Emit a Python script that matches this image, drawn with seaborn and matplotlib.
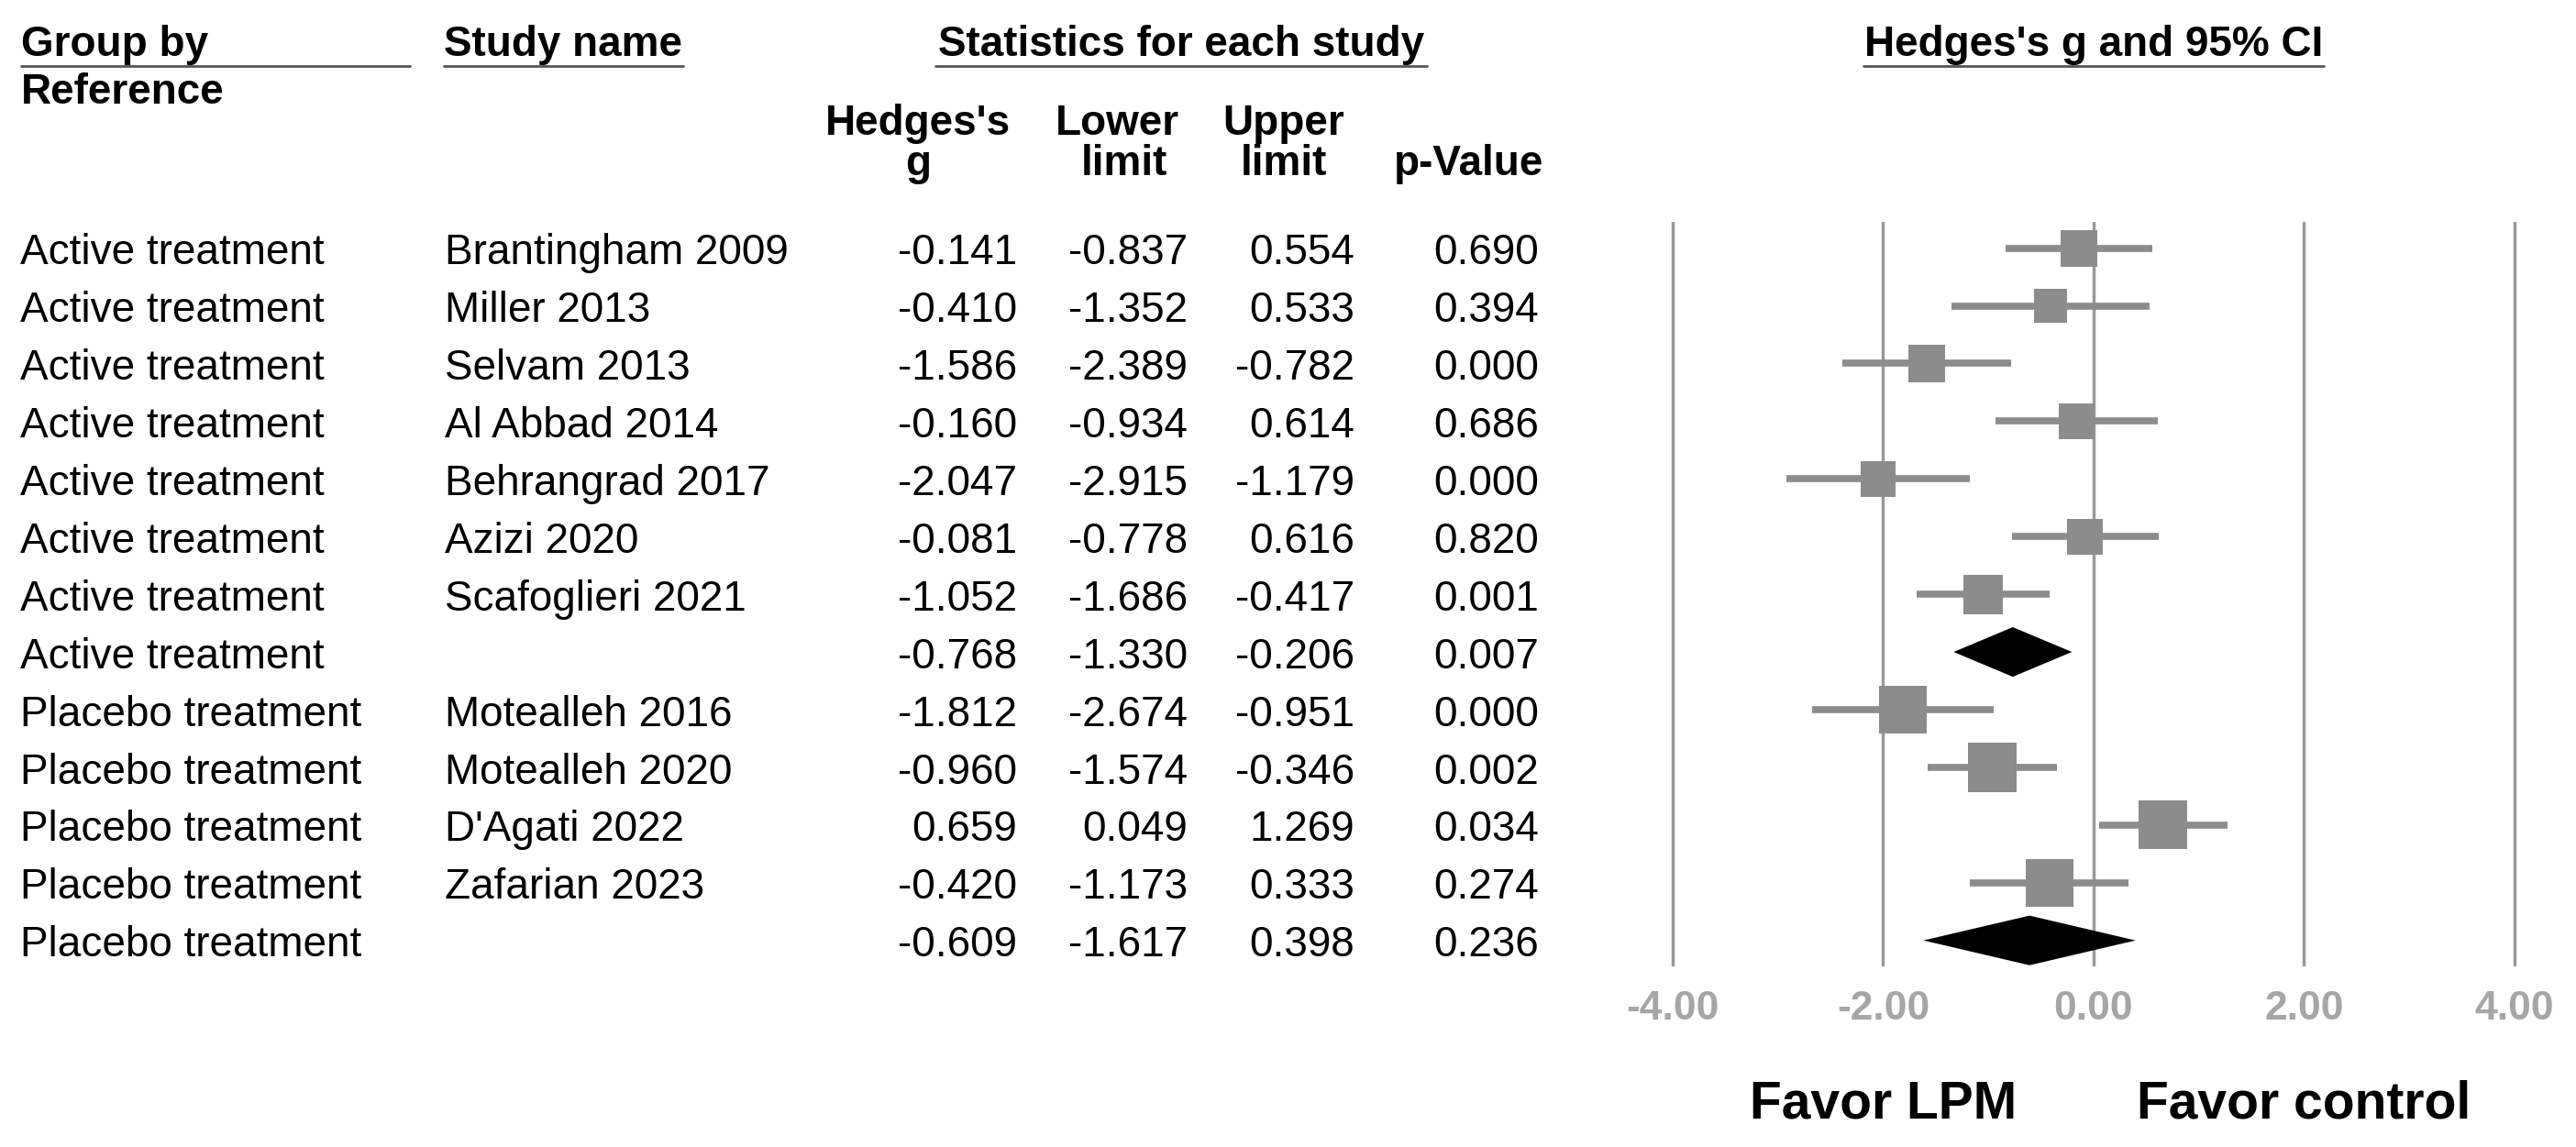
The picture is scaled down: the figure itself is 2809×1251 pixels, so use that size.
import numpy as np
import pandas as pd
import seaborn as sns
import matplotlib.pyplot as plt
from matplotlib.lines import Line2D
from matplotlib import transforms

# data
groups = ['Active treatment'] * 8 + ['Placebo treatment'] * 5
studies = ['Brantingham 2009', 'Miller 2013', 'Selvam 2013', 'Al Abbad 2014',
           'Behrangrad 2017', 'Azizi 2020', 'Scafoglieri 2021', '',
           'Motealleh 2016', 'Motealleh 2020', "D'Agati 2022", 'Zafarian 2023', '']
hedges_g = [-0.141, -0.410, -1.586, -0.160, -2.047, -0.081, -1.052, -0.768,
            -1.812, -0.960, 0.659, -0.420, -0.609]
lower = [-0.837, -1.352, -2.389, -0.934, -2.915, -0.778, -1.686, -1.330,
         -2.674, -1.574, 0.049, -1.173, -1.617]
upper = [0.554, 0.533, -0.782, 0.614, -1.179, 0.616, -0.417, -0.206,
         -0.951, -0.346, 1.269, 0.333, 0.398]
p_value = [0.690, 0.394, 0.000, 0.686, 0.000, 0.820, 0.001, 0.007,
           0.000, 0.002, 0.034, 0.274, 0.236]
# relative weight within group (%)
rel_weight = [14.5, 12.3, 15.2, 13.7, 13.7, 13.7, 16.8, np.nan,
              23.8, 25.7, 25.7, 24.7, np.nan]
x_ticks = [-4, -2, 0, 2, 4]

df = pd.DataFrame({'group': groups, 'study': studies, 'g': hedges_g,
                   'lower': lower, 'upper': upper, 'p': p_value,
                   'weight': rel_weight})
df['row'] = np.arange(len(df))
df['summary'] = df['study'] == ''
single = df[~df['summary']]
pooled = df[df['summary']]

sns.set_style('white')
plt.rcParams['font.family'] = ['Liberation Sans', 'DejaVu Sans']
plt.rcParams['axes.unicode_minus'] = False
plt.rcParams['text.color'] = 'black'

W, H = 2809, 1251
fig = plt.figure(figsize=(W / 100, H / 100), dpi=100)


def fx(px):
    return px / W


def fy(px):
    return 1 - px / H


ax = fig.add_axes([fx(1766.6), fy(1054), fx(1032.75), 812 / H])

GRAY = '#8c8c8c'
# confidence intervals
ax.hlines(single['row'], single['lower'], single['upper'], color=GRAY, lw=5.5, zorder=2)
# weighted boxes, area proportional to weight
sns.scatterplot(data=single, x='g', y='row', size='weight', sizes=(0, 57.0 * 30),
                size_norm=(0, 30), marker='s', color=GRAY, linewidth=0,
                legend=False, ax=ax, zorder=3)
# pooled diamonds
dh = 0.43
for _, r in pooled.iterrows():
    ax.fill([r['lower'], r['g'], r['upper'], r['g']],
            [r['row'], r['row'] - dh, r['row'], r['row'] + dh],
            color='black', lw=0, zorder=3)

ax.set_xlim(-4.5, 4.5)
ax.set_ylim(12.45, -0.455)
ax.set_xticks(x_ticks)
ax.set_xticklabels([f'{v:.2f}' for v in x_ticks], fontsize=32, fontweight='bold', color='#a6a6a6')
ax.set_yticks([])
ax.set_xlabel('')
ax.set_ylabel('')
ax.tick_params(axis='x', length=0, pad=19)
ax.grid(axis='x', color='#999999', lw=2.5, zorder=0)
ax.grid(axis='y', visible=False)
for s in ax.spines.values():
    s.set_visible(False)

# favour labels
tb = transforms.blended_transform_factory(ax.transData, fig.transFigure)
ax.text(-2, fy(1219), 'Favor LPM', transform=tb, ha='center', va='baseline',
        fontsize=41, fontweight='bold', color='black')
ax.text(2, fy(1219), 'Favor control', transform=tb, ha='center', va='baseline',
        fontsize=41, fontweight='bold', color='black')

# table rows, y follows the forest axis
tr = transforms.blended_transform_factory(fig.transFigure, ax.transData)
FS = 33
for _, r in df.iterrows():
    yb = r['row'] + 0.28
    fig.text(fx(22), yb, r['group'], transform=tr, ha='left', va='baseline', fontsize=FS)
    if r['study']:
        fig.text(fx(485), yb, r['study'], transform=tr, ha='left', va='baseline', fontsize=FS)
    fig.text(fx(1109), yb, f"{r['g']:.3f}", transform=tr, ha='right', va='baseline', fontsize=FS)
    fig.text(fx(1295), yb, f"{r['lower']:.3f}", transform=tr, ha='right', va='baseline', fontsize=FS)
    fig.text(fx(1477), yb, f"{r['upper']:.3f}", transform=tr, ha='right', va='baseline', fontsize=FS)
    fig.text(fx(1678), yb, f"{r['p']:.3f}", transform=tr, ha='right', va='baseline', fontsize=FS)

# headers
hdr = dict(fontsize=FS, fontweight='bold', va='baseline')
fig.text(fx(23), fy(61), 'Group by', ha='left', **hdr)
fig.text(fx(23), fy(113), 'Reference', ha='left', **hdr)
fig.text(fx(484), fy(61), 'Study name', ha='left', **hdr)
fig.text(fx(1288), fy(61), 'Statistics for each study', ha='center', **hdr)
fig.text(fx(2283), fy(61), "Hedges's g and 95% CI", ha='center', **hdr)
fig.text(fx(1001), fy(147), "Hedges's", ha='center', **hdr)
fig.text(fx(1001), fy(191), 'g', ha='center', **hdr)
fig.text(fx(1218), fy(147), 'Lower', ha='center', **hdr)
fig.text(fx(1226), fy(191), 'limit', ha='center', **hdr)
fig.text(fx(1400), fy(147), 'Upper', ha='center', **hdr)
fig.text(fx(1400), fy(191), 'limit', ha='center', **hdr)
fig.text(fx(1602), fy(191), 'p-Value', ha='center', **hdr)

for x0, x1 in [(23, 447), (484, 745), (1020, 1556), (2032, 2534)]:
    fig.add_artist(Line2D([fx(x0), fx(x1)], [fy(72), fy(72)], transform=fig.transFigure,
                          color='#555555', lw=2))

fig.savefig('out.png', dpi=100)
